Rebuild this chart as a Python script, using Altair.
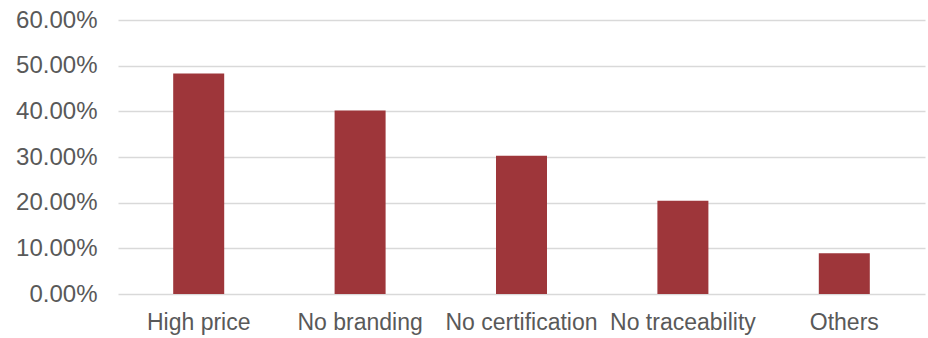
import altair as alt
import pandas as pd

categories = ["High price", "No branding", "No certification", "No traceability", "Others"]
values = [0.483, 0.402, 0.303, 0.204, 0.089]
y_ticks = [0, 0.1, 0.2, 0.3, 0.4, 0.5, 0.6]

df = pd.DataFrame({"category": categories, "value": values})

FONT = "Liberation Sans"
TEXT = "#595959"

chart = alt.Chart(df).mark_bar(color="#9E363A").encode(
    x=alt.X("category:N", sort=categories, title=None,
            scale=alt.Scale(paddingInner=0.684, paddingOuter=0.342),
            axis=alt.Axis(labelAngle=0, labelFontSize=23, labelColor=TEXT, labelFont=FONT,
                          domain=False, ticks=False, labelPadding=17, grid=False,
                          labelLimit=300)),
    y=alt.Y("value:Q", title=None,
            scale=alt.Scale(domain=[0, 0.6], nice=False),
            axis=alt.Axis(values=y_ticks, format=".2%", labelFontSize=24, labelColor=TEXT,
                          labelFont=FONT, domain=False, ticks=False, labelPadding=21,
                          gridColor="#d9d9d9", gridWidth=1.4)),
).properties(
    width=807, height=274,
    autosize=alt.AutoSizeParams(type="none"),
    padding={"left": 118, "top": 20, "right": 3, "bottom": 44},
).configure(background="white").configure_view(stroke=None)

chart.save("out.html", embed_options={"renderer": "svg", "actions": False})
